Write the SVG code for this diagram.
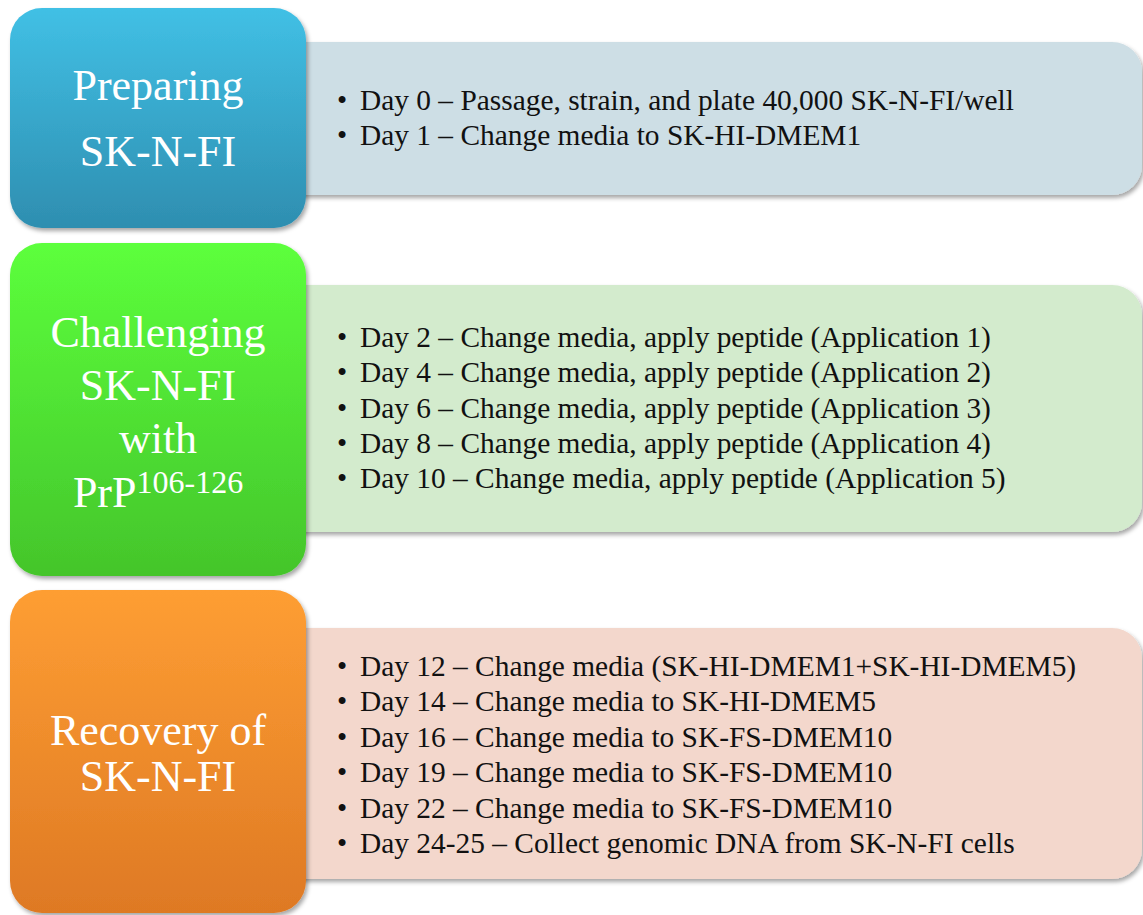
<svg xmlns="http://www.w3.org/2000/svg" width="1143" height="915" viewBox="0 0 1143 915">
<style>
.title{font-family:"Liberation Serif","Times New Roman",serif;font-size:44px;fill:#ffffff;text-anchor:middle}
.sup{font-size:32px}
.item{font-family:"Liberation Serif","Times New Roman",serif;font-size:29.4px;fill:#111111}
.bul{font-family:"Liberation Serif","Times New Roman",serif;font-size:29px;fill:#111111}
</style>
<defs>
<filter id="sh" x="-10%" y="-10%" width="125%" height="130%">
<feDropShadow dx="2" dy="3" stdDeviation="2" flood-color="#000" flood-opacity="0.35"/>
</filter>
<linearGradient id="gBlue" x1="0" y1="0" x2="0" y2="1">
<stop offset="0" stop-color="#41c0e5"/><stop offset="1" stop-color="#2e8eb0"/>
</linearGradient>
<linearGradient id="gGreen" x1="0" y1="0" x2="0" y2="1">
<stop offset="0" stop-color="#5cff3c"/><stop offset="1" stop-color="#44c52b"/>
</linearGradient>
<linearGradient id="gOrange" x1="0" y1="0" x2="0" y2="1">
<stop offset="0" stop-color="#fe9e33"/><stop offset="1" stop-color="#de7924"/>
</linearGradient>
</defs>
<rect width="1143" height="915" fill="#ffffff"/>

<g id="panel1">
<rect x="270" y="42" width="872" height="153" rx="30" fill="#cddee5" filter="url(#sh)"/>
<text class="bul" x="337" y="110">•</text><text class="item" x="360" y="110">Day 0 – Passage, strain, and plate 40,000 SK-N-FI/well</text>
<text class="bul" x="337" y="145">•</text><text class="item" x="360" y="145">Day 1 – Change media to SK-HI-DMEM1</text>
</g>
<g id="panel2">
<rect x="270" y="285" width="872" height="247" rx="30" fill="#d3ebcd" filter="url(#sh)"/>
<text class="bul" x="337" y="347">•</text><text class="item" x="360" y="347">Day 2 – Change media, apply peptide (Application 1)</text>
<text class="bul" x="337" y="382">•</text><text class="item" x="360" y="382">Day 4 – Change media, apply peptide (Application 2)</text>
<text class="bul" x="337" y="418">•</text><text class="item" x="360" y="418">Day 6 – Change media, apply peptide (Application 3)</text>
<text class="bul" x="337" y="453">•</text><text class="item" x="360" y="453">Day 8 – Change media, apply peptide (Application 4)</text>
<text class="bul" x="337" y="488">•</text><text class="item" x="360" y="488">Day 10 – Change media, apply peptide (Application 5)</text>
</g>
<g id="panel3">
<rect x="270" y="628" width="872" height="251" rx="30" fill="#f3d7cc" filter="url(#sh)"/>
<text class="bul" x="337" y="676">•</text><text class="item" x="360" y="676">Day 12 – Change media (SK-HI-DMEM1+SK-HI-DMEM5)</text>
<text class="bul" x="337" y="711">•</text><text class="item" x="360" y="711">Day 14 – Change media to SK-HI-DMEM5</text>
<text class="bul" x="337" y="747">•</text><text class="item" x="360" y="747">Day 16 – Change media to SK-FS-DMEM10</text>
<text class="bul" x="337" y="782">•</text><text class="item" x="360" y="782">Day 19 – Change media to SK-FS-DMEM10</text>
<text class="bul" x="337" y="818">•</text><text class="item" x="360" y="818">Day 22 – Change media to SK-FS-DMEM10</text>
<text class="bul" x="337" y="853">•</text><text class="item" x="360" y="853">Day 24-25 – Collect genomic DNA from SK-N-FI cells</text>
</g>

<g id="box1">
<rect x="10" y="8" width="296" height="220" rx="32" fill="url(#gBlue)" filter="url(#sh)"/>
<text class="title" x="158" y="100">Preparing</text>
<text class="title" x="158" y="166">SK-N-FI</text>
</g>
<g id="box2">
<rect x="10" y="243" width="296" height="333" rx="32" fill="url(#gGreen)" filter="url(#sh)"/>
<text class="title" x="158" y="347">Challenging</text>
<text class="title" x="158" y="400">SK-N-FI</text>
<text class="title" x="158" y="453">with</text>
<text class="title" x="158" y="507">PrP<tspan class="sup" dy="-14">106-126</tspan></text>
</g>
<g id="box3">
<rect x="10" y="590" width="296" height="323" rx="32" fill="url(#gOrange)" filter="url(#sh)"/>
<text class="title" x="158" y="745">Recovery of</text>
<text class="title" x="158" y="791">SK-N-FI</text>
</g>
<g id="connectors"/>
</svg>
